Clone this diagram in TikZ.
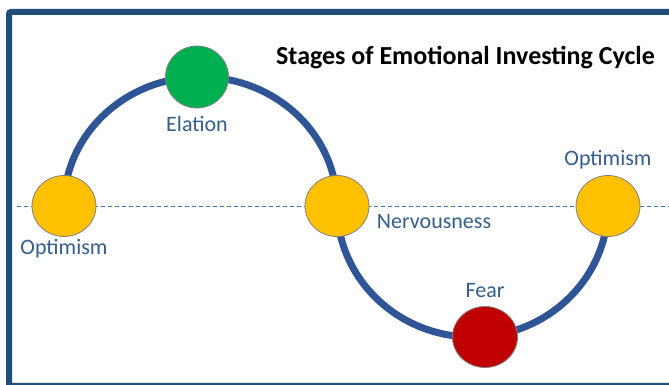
\documentclass[tikz,border=0pt]{standalone}
\usepackage{fontspec}
\setmainfont{Carlito}
\usetikzlibrary{shapes.geometric}
\definecolor{framec}{RGB}{31,78,121}
\definecolor{arcc}{RGB}{47,85,151}
\definecolor{dashc}{RGB}{68,114,196}
\definecolor{labelc}{RGB}{52,94,140}
\definecolor{yel}{RGB}{255,192,0}
\definecolor{grn}{RGB}{0,176,80}
\definecolor{redc}{RGB}{192,0,0}
\tikzset{
  stage/.style={ellipse, draw=black!50, line width=0.8pt, inner sep=0pt, minimum width=64pt, minimum height=61pt},
  lbl/.style={text=labelc, font=\fontsize{22}{24}\selectfont, inner sep=0pt},
  cyc/.style={draw=arcc, line width=7pt},
}
\begin{document}
\begin{tikzpicture}[x=1pt,y=1pt]
\useasboundingbox (0,0) rectangle (669,384);
\clip (0,0) rectangle (669,384);
\fill[white] (0,0) rectangle (669,384);
\draw[framec, line width=6pt, rounded corners=2pt] (9,-1.8) rectangle (690,372);
\coordinate (dl) at (17,178);
\coordinate (dr) at (669,178);
\draw[dashc, dashed, line width=0.8pt, dash pattern=on 4pt off 3pt] (dl) -- (dr);
\coordinate (lo) at (64,178);
\coordinate (nv) at (337,178);
\draw[cyc] (lo) arc[start angle=180, end angle=0, x radius=136.5, y radius=129];
\draw[cyc] (nv) arc[start angle=180, end angle=360, x radius=135.5, y radius=131];
\node[stage, fill=yel] (opt1) at (lo) {};
\node[stage, fill=yel] (nerv) at (nv) {};
\node[stage, fill=yel] (opt2) at (608,178) {};
\node[stage, fill=grn, minimum width=63pt, minimum height=62pt] (ela) at (197,307) {};
\node[stage, fill=redc, minimum width=65pt] (fear) at (485,47) {};
\node[lbl] (tela) at (197,260) {Elation};
\node[lbl] (topt1) at (64,135) {Optimism};
\node[lbl] (tnerv) at (434,162) {Nervousness};
\node[lbl] (topt2) at (608,224) {Optimism};
\node[lbl] (tfear) at (485,93) {Fear};
\node[font=\bfseries\fontsize{26}{28}\selectfont, inner sep=0pt] (title) at (465.5,326) {Stages of Emotional Investing Cycle};
\end{tikzpicture}
\end{document}
